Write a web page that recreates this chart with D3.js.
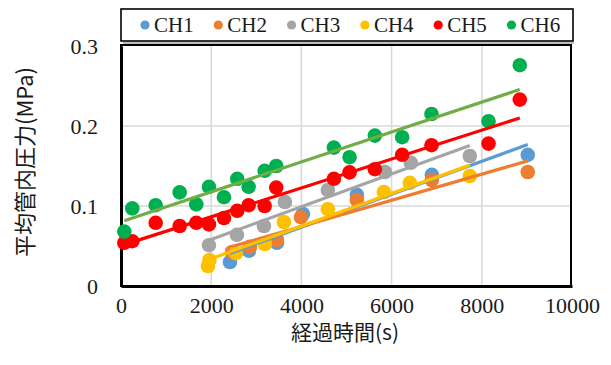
<!DOCTYPE html>
<html><head><meta charset="utf-8">
<script src="https://cdn.jsdelivr.net/npm/d3@7"></script>
<style>html,body{margin:0;padding:0;background:#fff;}svg{display:block;}
.serif{font-family:"Liberation Serif","Times New Roman",Tinos,serif;}
.cjk{font-family:"Noto Sans CJK JP","Noto Sans CJK SC",sans-serif;}
</style>
</head><body>
<svg id="chart" width="611" height="365"></svg>
<script>
// ---- data ----
const seriesNames = ["CH1","CH2","CH3","CH4","CH5","CH6"];
const ch1Time = [2416, 2837, 3457, 4033, 5230, 6892, 9019];
const ch1Pressure = [0.030, 0.044, 0.054, 0.090, 0.114, 0.139, 0.164];
const ch2Time = [2460, 2859, 3457, 3989, 5230, 6892, 9019];
const ch2Pressure = [0.0425, 0.049, 0.0575, 0.086, 0.1075, 0.1325, 0.1425];
const ch3Time = [1950, 2571, 3169, 3634, 4587, 5851, 6427, 7734];
const ch3Pressure = [0.051, 0.064, 0.075, 0.105, 0.120, 0.1425, 0.154, 0.1625];
const ch4Time = [1928, 1961, 2548, 3191, 3612, 4587, 5828, 6404, 7734];
const ch4Pressure = [0.025, 0.0325, 0.041, 0.0525, 0.080, 0.096, 0.1175, 0.129, 0.1375];
const ch5Time = [73, 250, 769, 1301, 1669, 1950, 2283, 2577, 2830, 3185, 3442, 4720, 5068, 5629, 6234, 6885, 8149, 8842];
const ch5Pressure = [0.054, 0.056, 0.079, 0.075, 0.079, 0.077, 0.085, 0.094, 0.101, 0.100, 0.123, 0.134, 0.142, 0.146, 0.164, 0.176, 0.178, 0.233];
const ch6Time = [73, 250, 769, 1301, 1669, 1950, 2283, 2577, 2830, 3185, 3442, 4720, 5068, 5629, 6234, 6885, 8149, 8842];
const ch6Pressure = [0.068, 0.097, 0.101, 0.117, 0.102, 0.124, 0.111, 0.134, 0.124, 0.144, 0.150, 0.173, 0.161, 0.188, 0.186, 0.215, 0.206, 0.276];
const xTicks = [0, 2000, 4000, 6000, 8000, 10000];
const yTicks = [0, 0.1, 0.2, 0.3];
const xTitle = "経過時間(s)";
const yTitle = "平均管内圧力(MPa)";

const markerColors = ["#5B9BD5","#ED7D31","#A5A5A5","#FFC000","#FF0000","#00B050"];
const lineColors   = ["#5B9BD5","#ED7D31","#A5A5A5","#FFC000","#FF0000","#70AD47"];

const series = [
  [ch1Time, ch1Pressure],[ch2Time, ch2Pressure],[ch3Time, ch3Pressure],
  [ch4Time, ch4Pressure],[ch5Time, ch5Pressure],[ch6Time, ch6Pressure]
].map(([t,p],i)=>({name:seriesNames[i], pts:t.map((tt,j)=>({t:tt,p:p[j]}))}));

// ---- layout ----
const svg = d3.select("#chart");
const L = 121, R = 572, T = 46, B = 286;
const x = d3.scaleLinear().domain([0,10000]).range([L,R]);
const y = d3.scaleLinear().domain([0,0.3]).range([B,T]);
const txt = "#1a1a1a";

// gridlines
const g = svg.append("g");
g.selectAll("line.vg").data(xTicks.filter(d=>d>0 && d<10000)).enter().append("line")
  .attr("x1",d=>x(d)).attr("x2",d=>x(d)).attr("y1",T).attr("y2",B)
  .attr("stroke","#D9D9D9").attr("stroke-width",1.6);
g.selectAll("line.hg").data(yTicks.filter(d=>d>0 && d<0.3)).enter().append("line")
  .attr("x1",L).attr("x2",R-1).attr("y1",d=>y(d)).attr("y2",d=>y(d))
  .attr("stroke","#D9D9D9").attr("stroke-width",1.6);

// plot border
svg.append("rect").attr("x",L).attr("y",T-1).attr("width",R-1-L).attr("height",B-T+1)
  .attr("fill","none").attr("stroke","#000").attr("stroke-width",2);

// axes via d3
const xAxis = svg.append("g").attr("transform",`translate(0,${B})`)
  .call(d3.axisBottom(x).tickValues(xTicks).tickSize(0).tickPadding(11).tickFormat(d3.format("d")));
const yAxis = svg.append("g").attr("transform",`translate(${L},0)`)
  .call(d3.axisLeft(y).tickValues(yTicks).tickSize(0).tickPadding(23).tickFormat(d=>d===0?"0":d3.format(".1f")(d)));
[xAxis,yAxis].forEach(a=>{
  a.attr("font-family",null).attr("font-size",null);
  a.select(".domain").attr("stroke","#000").attr("stroke-width",3);
  a.selectAll("text").attr("class","serif").style("font-size","22px").attr("fill",txt);
});
xAxis.selectAll("text").attr("dy","0.71em");
yAxis.selectAll("text").attr("dy","0.35em");

// markers
series.forEach((s,i)=>{
  svg.append("g").selectAll("circle").data(s.pts).enter().append("circle")
    .attr("cx",d=>x(d.t)).attr("cy",d=>y(d.p)).attr("r",7.3)
    .attr("fill",markerColors[i]);
});

// linear trendlines (least squares)
series.forEach((s,i)=>{
  const mt = d3.mean(s.pts,d=>d.t), mp = d3.mean(s.pts,d=>d.p);
  const slope = d3.sum(s.pts,d=>(d.t-mt)*(d.p-mp))/d3.sum(s.pts,d=>(d.t-mt)*(d.t-mt));
  const b = mp - slope*mt;
  const [t0,t1] = d3.extent(s.pts,d=>d.t);
  const line = d3.line().x(d=>x(d)).y(d=>y(slope*d+b));
  svg.append("path").datum([t0,t1]).attr("d",line)
    .attr("stroke",lineColors[i]).attr("stroke-width",3.2).attr("fill","none");
});

// axis titles
svg.append("text").attr("class","cjk").attr("x",345).attr("y",340).attr("text-anchor","middle")
  .style("font-size","21px").attr("fill",txt).text(xTitle);
svg.append("text").attr("class","cjk").attr("transform","translate(33,162) rotate(-90)").attr("text-anchor","middle")
  .style("font-size","22px").attr("fill",txt).text(yTitle);

// legend
const lg = svg.append("g");
lg.append("line").attr("x1",123).attr("x2",574).attr("y1",43).attr("y2",43).attr("stroke","#A6A6A6").attr("stroke-width",1.5);
lg.append("rect").attr("x",121).attr("y",9).attr("width",452).attr("height",32)
  .attr("fill","#fff").attr("stroke","#000").attr("stroke-width",1.6);
const legX = d3.scalePoint().domain(seriesNames).range([145,511.5]);
seriesNames.forEach((nm,i)=>{
  lg.append("circle").attr("cx",legX(nm)).attr("cy",25).attr("r",4.6).attr("fill",markerColors[i]);
  lg.append("text").attr("class","serif").attr("x",legX(nm)+9).attr("y",32).style("font-size","21px")
    .attr("fill",txt).text(nm);
});
</script>
</body></html>
